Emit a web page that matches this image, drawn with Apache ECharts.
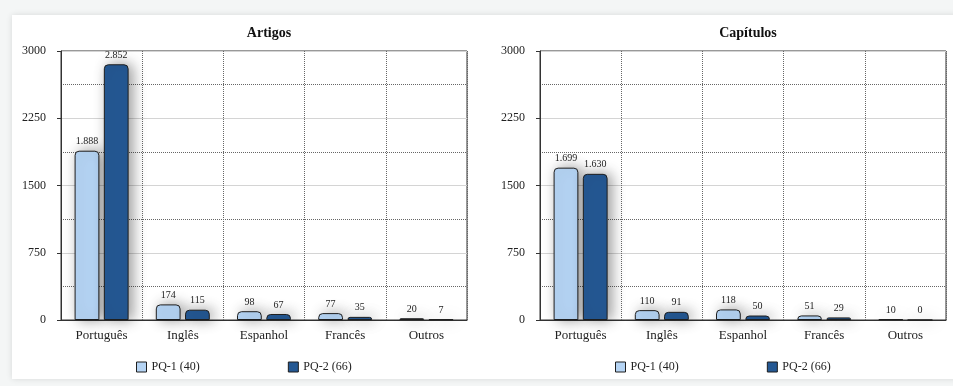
<!DOCTYPE html>
<html>
<head>
<meta charset="utf-8">
<title>Artigos e Capítulos por idioma</title>
<script src="https://cdn.jsdelivr.net/npm/echarts@6/dist/echarts.min.js"></script>
<style>
  html, body { margin: 0; padding: 0; background: #f4f6f6; }
  #chart { width: 953px; height: 386px; }
</style>
</head>
<body>
<div id="chart"></div>
<script>
// Languages on the x axis
const idiomas = ['Português', 'Inglês', 'Espanhol', 'Francês', 'Outros'];

// Panel titles
const titulos = ['Artigos', 'Capítulos'];

// Group names
const grupos = ['PQ-1 (40)', 'PQ-2 (66)'];

// Articles by language
const artigosPQ1 = [1888, 174, 98, 77, 20];
const artigosPQ2 = [2852, 115, 67, 35, 7];

// Chapters by language
const capitulosPQ1 = [1699, 110, 118, 51, 10];
const capitulosPQ2 = [1630, 91, 50, 29, 0];

// Y axis scale
const yMin = 0;
const yMax = 3000;
const yStep = 750;

const FONT = '"Liberation Serif", "Times New Roman", serif';
const COR_PQ1 = '#b5d4f4';
const COR_PQ2 = '#245893';

// 1888 -> "1.888"
function milhar(v) {
  return String(v).replace(/\B(?=(\d{3})+(?!\d))/g, '.');
}

const grids = [
  { left: 61, top: 51, width: 406, height: 269 },
  { left: 540, top: 51, width: 406, height: 269 }
];

function eixoX(i) {
  return {
    type: 'category',
    gridIndex: i,
    data: idiomas,
    axisLine: { lineStyle: { color: '#333', width: 1 } },
    axisTick: { show: false },
    axisLabel: { fontFamily: FONT, fontSize: 13, color: '#222', margin: 9 },
    splitLine: { show: true, lineStyle: { type: 'dotted', color: '#666', width: 1 } }
  };
}

function eixoY(i) {
  return {
    type: 'value',
    gridIndex: i,
    min: yMin,
    max: yMax,
    interval: yStep,
    axisLine: { show: true, lineStyle: { color: '#333', width: 1 } },
    axisTick: { show: true, inside: false, length: 4, lineStyle: { color: '#333' } },
    axisLabel: {
      fontFamily: FONT, fontSize: 12, color: '#222', margin: 15,
      formatter: v => String(v)
    },
    splitLine: { show: true, lineStyle: { color: '#d4d4d4', width: 1 } },
    minorTick: { show: false, splitNumber: 2 },
    minorSplitLine: { show: true, lineStyle: { type: 'dotted', color: '#666', width: 1 } }
  };
}

function serie(nome, valores, cor, i) {
  return {
    name: nome,
    type: 'bar',
    xAxisIndex: i,
    yAxisIndex: i,
    data: valores,
    barWidth: '30.5%',
    barGap: '18%',
    itemStyle: {
      color: cor,
      borderColor: '#1e1e1e',
      borderWidth: 1,
      borderRadius: [4, 4, 0, 0],
      shadowBlur: 14,
      shadowOffsetX: 4,
      shadowOffsetY: 0,
      shadowColor: 'rgba(0,0,0,0.4)'
    },
    label: {
      show: true,
      position: 'top',
      distance: 4,
      fontFamily: FONT,
      fontSize: 10,
      color: '#222',
      formatter: p => milhar(p.value)
    }
  };
}

function legenda(left) {
  return {
    left: left,
    top: 356,
    data: grupos,
    icon: 'rect',
    itemWidth: 10,
    itemHeight: 10,
    itemGap: 88,
    itemStyle: { borderColor: '#1e1e1e', borderWidth: 1 },
    textStyle: { fontFamily: FONT, fontSize: 12, color: '#222' }
  };
}

const chart = echarts.init(document.getElementById('chart'), null, { renderer: 'canvas' });

chart.setOption({
  animation: false,
  backgroundColor: '#f4f6f6',
  graphic: [{
    type: 'rect',
    z: -10,
    shape: { x: 12, y: 15, width: 960, height: 364 },
    style: {
      fill: '#ffffff',
      shadowBlur: 6,
      shadowColor: 'rgba(0,0,0,0.12)'
    }
  }],
  title: titulos.map((t, i) => ({
    text: t,
    left: grids[i].left + grids[i].width / 2,
    top: 21,
    textAlign: 'center',
    textStyle: { fontFamily: FONT, fontSize: 14, fontWeight: 'bold', color: '#111' }
  })),
  legend: [legenda(131), legenda(610)],
  grid: grids.map(g => Object.assign({ show: true, borderColor: '#333', borderWidth: 1, backgroundColor: 'transparent' }, g)),
  xAxis: [eixoX(0), eixoX(1)],
  yAxis: [eixoY(0), eixoY(1)],
  series: [
    serie(grupos[0], artigosPQ1, COR_PQ1, 0),
    serie(grupos[1], artigosPQ2, COR_PQ2, 0),
    serie(grupos[0], capitulosPQ1, COR_PQ1, 1),
    serie(grupos[1], capitulosPQ2, COR_PQ2, 1)
  ]
});
</script>
</body>
</html>
